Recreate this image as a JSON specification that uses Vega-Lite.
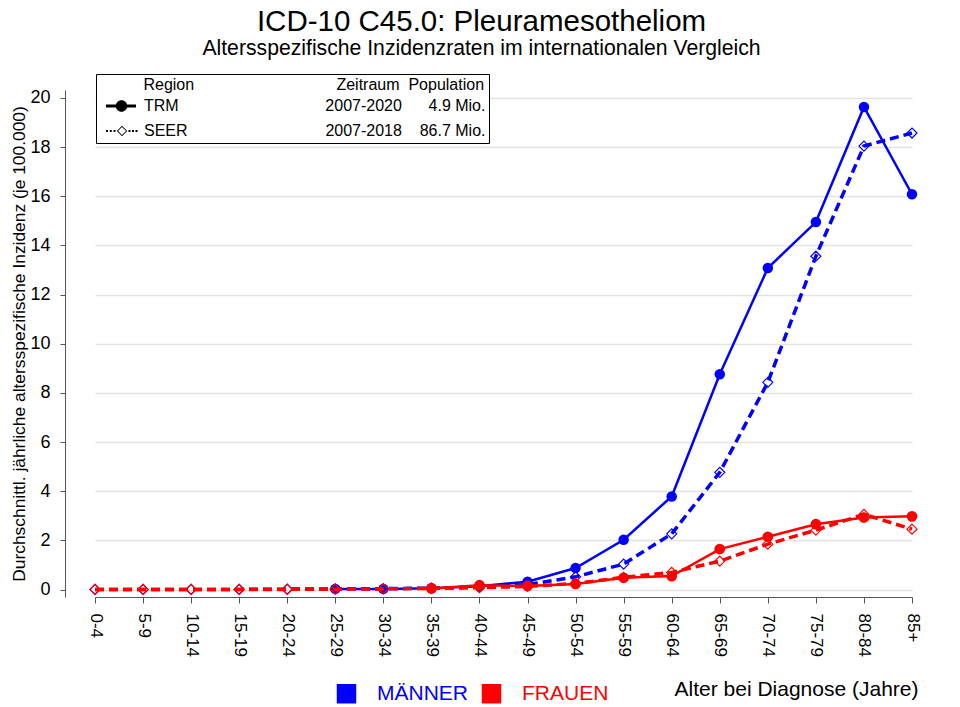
{
  "$schema": "https://vega.github.io/schema/vega-lite/v6.json",
  "width": 895,
  "height": 507,
  "autosize": "none",
  "padding": {"left": 65, "top": 90, "right": 0, "bottom": 110},
  "background": "white",
  "config": {
    "font": "Liberation Sans",
    "view": {"stroke": null},
    "axis": {"labelColor": "black", "titleColor": "black", "domainColor": "#555555", "tickColor": "#555555", "titleFontWeight": "normal"}
  },
  "title": {
    "text": "ICD-10 C45.0: Pleuramesotheliom",
    "subtitle": "Altersspezifische Inzidenzraten im internationalen Vergleich",
    "fontSize": 29.5,
    "subtitleFontSize": 21.2,
    "fontWeight": "normal",
    "color": "black",
    "subtitleColor": "black",
    "anchor": "middle",
    "frame": "group",
    "dx": -31,
    "offset": 13,
    "subtitlePadding": 0.5
  },
  "data": {
    "values": [
      {"age": "25-29", "sex": "MÄNNER", "region": "TRM", "value": 0.03},
      {"age": "30-34", "sex": "MÄNNER", "region": "TRM", "value": 0.03},
      {"age": "35-39", "sex": "MÄNNER", "region": "TRM", "value": 0.06},
      {"age": "40-44", "sex": "MÄNNER", "region": "TRM", "value": 0.14},
      {"age": "45-49", "sex": "MÄNNER", "region": "TRM", "value": 0.32},
      {"age": "50-54", "sex": "MÄNNER", "region": "TRM", "value": 0.88},
      {"age": "55-59", "sex": "MÄNNER", "region": "TRM", "value": 2.03},
      {"age": "60-64", "sex": "MÄNNER", "region": "TRM", "value": 3.79},
      {"age": "65-69", "sex": "MÄNNER", "region": "TRM", "value": 8.76},
      {"age": "70-74", "sex": "MÄNNER", "region": "TRM", "value": 13.08},
      {"age": "75-79", "sex": "MÄNNER", "region": "TRM", "value": 14.95},
      {"age": "80-84", "sex": "MÄNNER", "region": "TRM", "value": 19.63},
      {"age": "85+", "sex": "MÄNNER", "region": "TRM", "value": 16.08},
      {"age": "0-4", "sex": "MÄNNER", "region": "SEER", "value": 0.01},
      {"age": "5-9", "sex": "MÄNNER", "region": "SEER", "value": 0.01},
      {"age": "10-14", "sex": "MÄNNER", "region": "SEER", "value": 0.01},
      {"age": "15-19", "sex": "MÄNNER", "region": "SEER", "value": 0.01},
      {"age": "20-24", "sex": "MÄNNER", "region": "SEER", "value": 0.02},
      {"age": "25-29", "sex": "MÄNNER", "region": "SEER", "value": 0.03},
      {"age": "30-34", "sex": "MÄNNER", "region": "SEER", "value": 0.04},
      {"age": "35-39", "sex": "MÄNNER", "region": "SEER", "value": 0.06},
      {"age": "40-44", "sex": "MÄNNER", "region": "SEER", "value": 0.1},
      {"age": "45-49", "sex": "MÄNNER", "region": "SEER", "value": 0.2},
      {"age": "50-54", "sex": "MÄNNER", "region": "SEER", "value": 0.52},
      {"age": "55-59", "sex": "MÄNNER", "region": "SEER", "value": 1.04},
      {"age": "60-64", "sex": "MÄNNER", "region": "SEER", "value": 2.27},
      {"age": "65-69", "sex": "MÄNNER", "region": "SEER", "value": 4.77},
      {"age": "70-74", "sex": "MÄNNER", "region": "SEER", "value": 8.43},
      {"age": "75-79", "sex": "MÄNNER", "region": "SEER", "value": 13.56},
      {"age": "80-84", "sex": "MÄNNER", "region": "SEER", "value": 18.04},
      {"age": "85+", "sex": "MÄNNER", "region": "SEER", "value": 18.57},
      {"age": "35-39", "sex": "FRAUEN", "region": "TRM", "value": 0.05},
      {"age": "40-44", "sex": "FRAUEN", "region": "TRM", "value": 0.18},
      {"age": "45-49", "sex": "FRAUEN", "region": "TRM", "value": 0.15},
      {"age": "50-54", "sex": "FRAUEN", "region": "TRM", "value": 0.23},
      {"age": "55-59", "sex": "FRAUEN", "region": "TRM", "value": 0.48},
      {"age": "60-64", "sex": "FRAUEN", "region": "TRM", "value": 0.55},
      {"age": "65-69", "sex": "FRAUEN", "region": "TRM", "value": 1.65},
      {"age": "70-74", "sex": "FRAUEN", "region": "TRM", "value": 2.15},
      {"age": "75-79", "sex": "FRAUEN", "region": "TRM", "value": 2.66},
      {"age": "80-84", "sex": "FRAUEN", "region": "TRM", "value": 2.93},
      {"age": "85+", "sex": "FRAUEN", "region": "TRM", "value": 2.98},
      {"age": "0-4", "sex": "FRAUEN", "region": "SEER", "value": 0.01},
      {"age": "5-9", "sex": "FRAUEN", "region": "SEER", "value": 0.01},
      {"age": "10-14", "sex": "FRAUEN", "region": "SEER", "value": 0.01},
      {"age": "15-19", "sex": "FRAUEN", "region": "SEER", "value": 0.01},
      {"age": "20-24", "sex": "FRAUEN", "region": "SEER", "value": 0.01},
      {"age": "25-29", "sex": "FRAUEN", "region": "SEER", "value": 0.02},
      {"age": "30-34", "sex": "FRAUEN", "region": "SEER", "value": 0.03},
      {"age": "35-39", "sex": "FRAUEN", "region": "SEER", "value": 0.05},
      {"age": "40-44", "sex": "FRAUEN", "region": "SEER", "value": 0.08},
      {"age": "45-49", "sex": "FRAUEN", "region": "SEER", "value": 0.13},
      {"age": "50-54", "sex": "FRAUEN", "region": "SEER", "value": 0.25},
      {"age": "55-59", "sex": "FRAUEN", "region": "SEER", "value": 0.5},
      {"age": "60-64", "sex": "FRAUEN", "region": "SEER", "value": 0.7},
      {"age": "65-69", "sex": "FRAUEN", "region": "SEER", "value": 1.16},
      {"age": "70-74", "sex": "FRAUEN", "region": "SEER", "value": 1.85},
      {"age": "75-79", "sex": "FRAUEN", "region": "SEER", "value": 2.42},
      {"age": "80-84", "sex": "FRAUEN", "region": "SEER", "value": 3.06},
      {"age": "85+", "sex": "FRAUEN", "region": "SEER", "value": 2.46}
    ]
  },
  "encoding": {
    "x": {
      "field": "age",
      "type": "ordinal",
      "scale": {"type": "point", "domain": ["0-4", "5-9", "10-14", "15-19", "20-24", "25-29", "30-34", "35-39", "40-44", "45-49", "50-54", "55-59", "60-64", "65-69", "70-74", "75-79", "80-84", "85+"], "range": [30, 847], "padding": 0},
      "axis": {
        "title": "Alter bei Diagnose (Jahre)",
        "labelAngle": 90,
        "labelFontSize": 17,
        "tickSize": 6,
        "labelPadding": 10,
        "titleFontSize": 21,
        "titleX": 853,
        "titleY": 98,
        "titleAlign": "right",
        "titleAnchor": null,
        "titleBaseline": "alphabetic",
        "grid": false
      }
    },
    "y": {
      "field": "value",
      "type": "quantitative",
      "scale": {"domain": [-0.3, 20.32], "nice": false, "zero": false},
      "axis": {
        "title": "Durchschnittl. jährliche altersspezifische Inzidenz (je 100.000)",
        "values": [0, 2, 4, 6, 8, 10, 12, 14, 16, 18, 20],
        "labelFontSize": 18,
        "tickSize": 5,
        "labelPadding": 10,
        "titleFontSize": 17.4,
        "titleX": -41,
        "titleBaseline": "alphabetic",
        "grid": true,
        "gridColor": "#e3e3e3",
        "gridWidth": 1.5
      }
    }
  },
  "layer": [
    {
      "mark": {"type": "point", "filled": true, "color": "black", "opacity": 0, "size": 100},
      "encoding": {
        "shape": {
          "field": "region",
          "type": "nominal",
          "scale": {"domain": ["TRM", "SEER"], "range": ["M-0.2,-0.3L5.8,-0.3L5.8,0.3L-0.2,0.3Z M4.05,0A1.15,1.15,0,1,1,1.75,0A1.15,1.15,0,1,1,4.05,0Z", "M-0.2,-0.2L0.2,-0.2L0.2,0.2L-0.2,0.2Z M0.55,-0.2L0.95,-0.2L0.95,0.2L0.55,0.2Z M1.3,-0.2L1.7,-0.2L1.7,0.2L1.3,0.2Z M1.95,0L3,-1.05L4.05,0L3,1.05Z M2.2,0L3,0.8L3.8,0L3,-0.8Z M4.3,-0.2L4.7,-0.2L4.7,0.2L4.3,0.2Z M5.0,-0.2L5.4,-0.2L5.4,0.2L5.0,0.2Z M5.7,-0.2L6.1,-0.2L6.1,0.2L5.7,0.2Z"]},
          "legend": {
            "title": "\u200b\u00a0\u00a0\u00a0\u00a0\u00a0\u00a0\u00a0\u00a0\u00a0\u00a0Region\u00a0\u00a0\u00a0\u00a0\u00a0\u00a0\u00a0\u00a0\u00a0\u00a0\u00a0\u00a0\u00a0\u00a0\u00a0\u00a0\u00a0\u00a0\u00a0\u00a0\u00a0\u00a0\u00a0\u00a0\u00a0\u00a0\u00a0\u00a0\u00a0\u00a0\u00a0\u00a0Zeitraum\u00a0\u00a0Population",
            "orient": "none",
            "legendX": 31,
            "legendY": -16,
            "padding": 3,
            "strokeColor": "black",
            "fillColor": "white",
            "titleFontSize": 16,
            "titleFontWeight": "normal",
            "titleColor": "black",
            "titleLimit": 700,
            "titlePadding": 5,
            "labelFontSize": 16,
            "labelColor": "black",
            "labelLimit": 700,
            "labelOffset": 29,
            "rowPadding": 7,
            "symbolSize": 100,
            "labelExpr": "datum.value === 'TRM' ? 'TRM\u00a0\u00a0\u00a0\u00a0\u00a0\u00a0\u00a0\u00a0\u00a0\u00a0\u00a0\u00a0\u00a0\u00a0\u00a0\u00a0\u00a0\u00a0\u00a0\u00a0\u00a0\u00a0\u00a0\u00a0\u00a0\u00a0\u00a0\u00a0\u00a0\u00a0\u00a0\u00a0\u00a02007-2020\u00a0\u00a0\u00a0\u00a0\u00a0\u00a04.9 Mio.' : 'SEER\u00a0\u00a0\u00a0\u00a0\u00a0\u00a0\u00a0\u00a0\u00a0\u00a0\u00a0\u00a0\u00a0\u00a0\u00a0\u00a0\u00a0\u00a0\u00a0\u00a0\u00a0\u00a0\u00a0\u00a0\u00a0\u00a0\u00a0\u00a0\u00a0\u00a0\u00a02007-2018\u00a0\u00a0\u00a0\u00a086.7 Mio.'",
            "encode": {
              "symbols": {"update": {"opacity": {"value": 1}, "fill": {"value": "black"}, "stroke": {"value": "transparent"}, "strokeWidth": {"value": 0}}}
            }
          }
        }
      }
    },
    {
      "transform": [{"filter": "datum.sex === 'MÄNNER' && datum.region === 'TRM'"}],
      "mark": {"type": "line", "strokeWidth": 2.5},
      "encoding": {
        "color": {
          "field": "sex",
          "type": "nominal",
          "scale": {"domain": ["MÄNNER", "FRAUEN"], "range": ["#0000ff", "#ff0000"]},
          "legend": {
            "title": null,
            "orient": "none",
            "legendX": 271,
            "legendY": 593,
            "direction": "horizontal",
            "symbolType": "square",
            "symbolSize": 380,
            "labelFontSize": 21,
            "labelOffset": 20,
            "columnPadding": 12,
            "padding": 0,
            "labelLimit": 300,
            "encode": {
              "symbols": {"update": {"fill": {"scale": "color", "field": "value"}, "stroke": {"value": "transparent"}, "strokeWidth": {"value": 0}, "opacity": {"value": 1}, "shape": {"value": "square"}}},
              "labels": {"update": {"fill": {"signal": "datum.value === 'MÄNNER' ? '#0000ff' : '#ff0000'"}}}
            }
          }
        }
      }
    },
    {
      "transform": [{"filter": "datum.sex === 'MÄNNER' && datum.region === 'TRM'"}],
      "mark": {"type": "point", "shape": "circle", "filled": true, "size": 110, "opacity": 1},
      "encoding": {"color": {"field": "sex", "type": "nominal"}}
    },
    {
      "transform": [{"filter": "datum.sex === 'MÄNNER' && datum.region === 'SEER'"}],
      "mark": {"type": "line", "strokeWidth": 3.5, "strokeDash": [9, 5]},
      "encoding": {"color": {"field": "sex", "type": "nominal"}}
    },
    {
      "transform": [{"filter": "datum.sex === 'MÄNNER' && datum.region === 'SEER'"}],
      "mark": {"type": "point", "shape": "diamond", "filled": false, "size": 100, "strokeWidth": 1.2, "opacity": 1},
      "encoding": {"color": {"field": "sex", "type": "nominal"}}
    },
    {
      "transform": [{"filter": "datum.sex === 'FRAUEN' && datum.region === 'TRM'"}],
      "mark": {"type": "line", "strokeWidth": 2.5},
      "encoding": {"color": {"field": "sex", "type": "nominal"}}
    },
    {
      "transform": [{"filter": "datum.sex === 'FRAUEN' && datum.region === 'TRM'"}],
      "mark": {"type": "point", "shape": "circle", "filled": true, "size": 115, "opacity": 1},
      "encoding": {"color": {"field": "sex", "type": "nominal"}}
    },
    {
      "transform": [{"filter": "datum.sex === 'FRAUEN' && datum.region === 'SEER'"}],
      "mark": {"type": "line", "strokeWidth": 3.5, "strokeDash": [9, 5]},
      "encoding": {"color": {"field": "sex", "type": "nominal"}}
    },
    {
      "transform": [{"filter": "datum.sex === 'FRAUEN' && datum.region === 'SEER'"}],
      "mark": {"type": "point", "shape": "diamond", "filled": false, "size": 100, "strokeWidth": 1.2, "opacity": 1},
      "encoding": {"color": {"field": "sex", "type": "nominal"}}
    }
  ]
}
